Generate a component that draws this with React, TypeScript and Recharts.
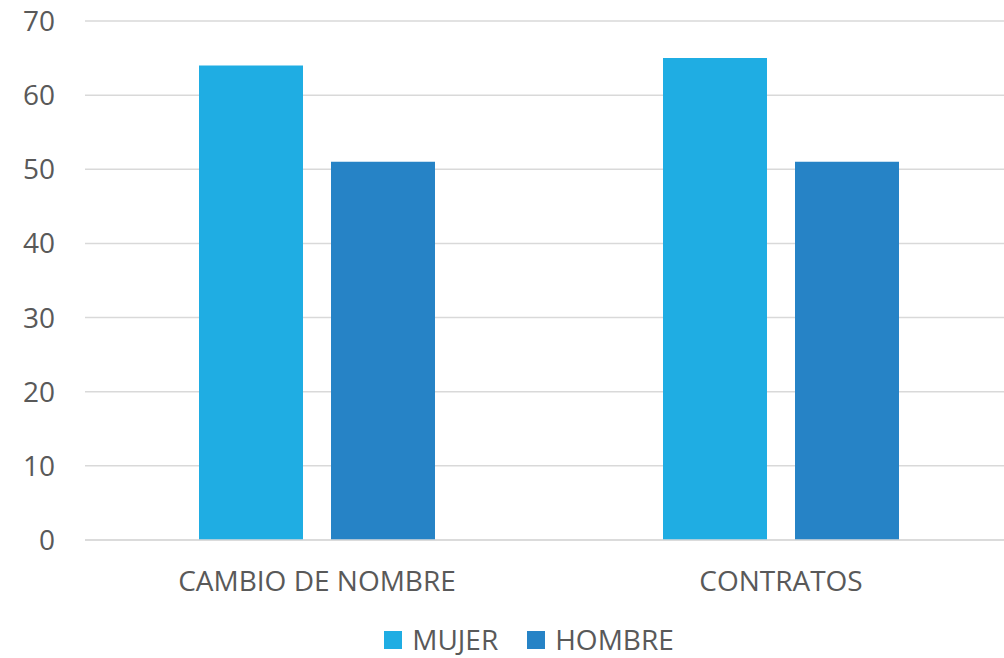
import { BarChart, Bar, XAxis, YAxis, CartesianGrid, Legend } from "recharts";

const categories = ["CAMBIO DE NOMBRE", "CONTRATOS"];
const mujer = [64, 65];
const hombre = [51, 51];
const yTicks = [0, 10, 20, 30, 40, 50, 60, 70];

const COLORS = { mujer: "#1FADE3", hombre: "#2683C6" };
const TEXT = "#595959";
const FONT = "'Open Sans', sans-serif";

const data = categories.map((name, i) => ({ name, MUJER: mujer[i], HOMBRE: hombre[i] }));

function LegendBox() {
  const items = [
    { label: "MUJER", color: COLORS.mujer },
    { label: "HOMBRE", color: COLORS.hombre },
  ];
  return (
    <div
      style={{
        display: "flex",
        justifyContent: "center",
        alignItems: "center",
        height: 38,
        boxSizing: "border-box",
        paddingLeft: 54,
        gap: 29,
      }}
    >
      {items.map((it) => (
        <div key={it.label} style={{ display: "flex", alignItems: "center", gap: 10 }}>
          <span style={{ width: 18, height: 18, background: it.color, display: "inline-block", marginTop: 2 }} />
          <span style={{ fontFamily: FONT, fontSize: 28, color: TEXT, lineHeight: "normal" }}>{it.label}</span>
        </div>
      ))}
    </div>
  );
}

export default function App() {
  return (
    <div style={{ position: "fixed", left: 0, top: 0, width: 1004, height: 658, overflow: "hidden", background: "#fff" }}>
      <BarChart
        width={1013}
        height={658}
        data={data}
        margin={{ top: 21, right: 0, bottom: 0, left: 0 }}
        barSize={104}
        barGap={28}
      >
        <CartesianGrid vertical={false} stroke="#D9D9D9" strokeWidth={1.5} />
        <XAxis
          dataKey="name"
          height={80}
          tickSize={0}
          tickMargin={31}
          axisLine={{ stroke: "#D9D9D9", strokeWidth: 1.5 }}
          tickLine={false}
          tick={{ fill: TEXT, fontSize: 28, fontFamily: FONT }}
        />
        <YAxis
          width={85}
          domain={[0, 70]}
          ticks={yTicks}
          tickSize={0}
          tickMargin={30}
          axisLine={false}
          tickLine={false}
          tick={{ fill: TEXT, fontSize: 28, fontFamily: FONT }}
        />
        <Legend
          verticalAlign="bottom"
          content={<LegendBox />}
          wrapperStyle={{ left: 0, width: 1004, bottom: 0 }}
        />
        <Bar dataKey="MUJER" fill={COLORS.mujer} isAnimationActive={false} />
        <Bar dataKey="HOMBRE" fill={COLORS.hombre} isAnimationActive={false} />
      </BarChart>
    </div>
  );
}
